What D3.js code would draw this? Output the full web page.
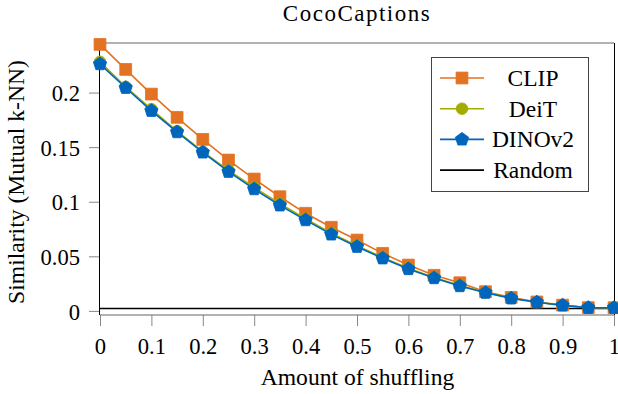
<!DOCTYPE html>
<html>
<head>
<meta charset="utf-8">
<script src="https://cdn.jsdelivr.net/npm/d3@7"></script>
<style>
    body { margin: 0; background: #fff; }
</style>
</head>
<body>
<script>
const shuffle = [0, 0.05, 0.1, 0.15, 0.2, 0.25, 0.3, 0.35, 0.4, 0.45, 0.5, 0.55, 0.6, 0.65, 0.7, 0.75, 0.8, 0.85, 0.9, 0.95, 1];
const clip = [0.2441, 0.2212, 0.1986, 0.1773, 0.1571, 0.1382, 0.1208, 0.1046, 0.0894, 0.0766, 0.0649, 0.0527, 0.042, 0.0326, 0.0258, 0.0176, 0.0124, 0.0082, 0.0053, 0.003, 0.0029];
const deit = [0.2282, 0.2053, 0.1849, 0.1647, 0.1458, 0.1288, 0.1132, 0.0982, 0.0844, 0.0712, 0.0597, 0.049, 0.039, 0.0307, 0.0233, 0.017, 0.0118, 0.008, 0.0052, 0.0029, 0.0029];
const dino = [0.2261, 0.2044, 0.1833, 0.1638, 0.1452, 0.1275, 0.1116, 0.0967, 0.0832, 0.0701, 0.0588, 0.0482, 0.0384, 0.0301, 0.0228, 0.0167, 0.0115, 0.0079, 0.0051, 0.0029, 0.0029];
const randomBaseline = 0.0022;
const xTicks = [0, 0.1, 0.2, 0.3, 0.4, 0.5, 0.6, 0.7, 0.8, 0.9, 1];
const yTicks = [0, 0.05, 0.1, 0.15, 0.2];
const seriesNames = ['CLIP', 'DeiT', 'DINOv2', 'Random'];

const width = 618,
    height = 394;
const plot = { left: 100, right: 614, top: 43, bottom: 315 };
const serif = "'Liberation Serif', 'Times New Roman', Tinos, 'DejaVu Serif', serif";

const series = [
    { name: seriesNames[0], values: clip, color: '#E37222', symbol: d3.symbolSquare, size: 140 },
    { name: seriesNames[1], values: deit, color: '#A2AD00', symbol: d3.symbolCircle, size: 105 },
    { name: seriesNames[2], values: dino, color: '#0065BD', symbol: 'pentagon', size: 7 }
];

const x = d3.scaleLinear().domain([0, 1]).range([plot.left, plot.right]);
const y = d3.scaleLinear().domain([-0.00375, 0.2454]).range([plot.bottom, plot.top]);

// pentagon marker, point up
function pentagon(r) {
    let pts = d3.range(5).map(i => {
        let a = -Math.PI / 2 + (i * 2 * Math.PI) / 5;
        return [r * Math.cos(a), r * Math.sin(a)];
    });
    return 'M' + pts.map(p => p.join(',')).join('L') + 'Z';
}

function markerPath(s) {
    if (s.symbol === 'pentagon') return pentagon(s.size);
    return d3.symbol().type(s.symbol).size(s.size)();
}

let svg = d3
    .select('body')
    .append('svg')
    .attr('width', width)
    .attr('height', height)
    .attr('font-family', serif);

// Title
svg.append('text')
    .attr('x', (plot.left + plot.right) / 2)
    .attr('y', 21)
    .attr('text-anchor', 'middle')
    .style('font-family', serif)
    .style('font-size', '23px')
    .style('letter-spacing', '1.5px')
    .text('CocoCaptions');

// Set x-axis
let xAxis = svg.append('g').attr('transform', `translate(0, ${plot.bottom})`);
xAxis.call(d3.axisBottom(x).tickValues(xTicks).tickSize(11).tickPadding(12).tickFormat(d3.format('')));

// Set y-axis
let yAxis = svg.append('g').attr('transform', `translate(${plot.left}, 0)`);
yAxis.call(d3.axisLeft(y).tickValues(yTicks).tickSize(11).tickPadding(9).tickFormat(d3.format('')));

svg.selectAll('.domain').remove();
svg.selectAll('.tick line').attr('stroke', '#888').attr('stroke-width', 1);
svg.selectAll('.tick text')
    .style('font-family', serif)
    .style('font-size', '22.6px')
    .attr('fill', '#000');
yAxis.selectAll('.tick text').attr('dy', '0.36em');
xAxis.selectAll('.tick text').attr('dy', '0.7em');

// Axis box
svg.append('line').attr('x1', plot.left).attr('x2', plot.right).attr('y1', plot.top).attr('y2', plot.top)
    .attr('stroke', '#666').attr('stroke-width', 1.2);
svg.append('line').attr('x1', plot.left).attr('x2', plot.right).attr('y1', plot.bottom).attr('y2', plot.bottom)
    .attr('stroke', '#666').attr('stroke-width', 1.2);
svg.append('line').attr('x1', plot.left - 0.5).attr('x2', plot.left - 0.5).attr('y1', plot.top).attr('y2', plot.bottom)
    .attr('stroke', '#000').attr('stroke-width', 1);
svg.append('line').attr('x1', plot.right + 0.5).attr('x2', plot.right + 0.5).attr('y1', plot.top).attr('y2', plot.bottom)
    .attr('stroke', '#000').attr('stroke-width', 1);

// Axis labels
svg.append('text')
    .attr('x', 357.5)
    .attr('y', 385)
    .attr('text-anchor', 'middle')
    .style('font-family', serif)
    .style('font-size', '23.6px')
    .text('Amount of shuffling');

svg.append('text')
    .attr('transform', 'translate(24, 182) rotate(-90)')
    .attr('text-anchor', 'middle')
    .style('font-family', serif)
    .style('font-size', '23.6px')
    .text('Similarity (Mutual k-NN)');

// Random baseline
svg.append('line')
    .attr('x1', x(0)).attr('x2', x(1))
    .attr('y1', y(randomBaseline)).attr('y2', y(randomBaseline))
    .attr('stroke', '#000').attr('stroke-width', 1.5);

// Series lines and markers
let line = d3.line().x((d, i) => x(shuffle[i])).y(d => y(d));

series.forEach(s => {
    let g = svg.append('g');
    g.append('path')
        .datum(s.values)
        .attr('d', line)
        .attr('fill', 'none')
        .attr('stroke', s.color)
        .attr('stroke-width', 1.6);
    g.selectAll('path.mark')
        .data(s.values)
        .enter()
        .append('path')
        .attr('class', 'mark')
        .attr('d', markerPath(s))
        .attr('transform', (d, i) => `translate(${x(shuffle[i])}, ${y(d)})`)
        .attr('fill', s.color)
        .attr('stroke', s.color)
        .attr('stroke-width', 0.8);
});

// Legend
let legend = svg.append('g').attr('transform', 'translate(431, 57)');
legend.append('rect')
    .attr('x', 0.5).attr('y', 0.5)
    .attr('width', 157).attr('height', 134)
    .attr('fill', '#fff')
    .attr('stroke', '#444')
    .attr('stroke-width', 1);

let legendItems = series.concat([{ name: seriesNames[3], color: '#000' }]);
legendItems.forEach((s, i) => {
    let cy = 21 + i * 30.7;
    legend.append('line')
        .attr('x1', 9).attr('x2', 53)
        .attr('y1', cy).attr('y2', cy)
        .attr('stroke', s.color)
        .attr('stroke-width', 1.6);
    if (s.symbol) {
        legend.append('path')
            .attr('d', markerPath(s))
            .attr('transform', `translate(31, ${cy})`)
            .attr('fill', s.color)
            .attr('stroke', s.color)
            .attr('stroke-width', 0.8);
    }
    legend.append('text')
        .attr('x', 102)
        .attr('y', cy)
        .attr('dy', '0.34em')
        .attr('text-anchor', 'middle')
        .style('font-family', serif)
        .style('font-size', '23.5px')
        .text(s.name);
});
</script>
</body>
</html>
